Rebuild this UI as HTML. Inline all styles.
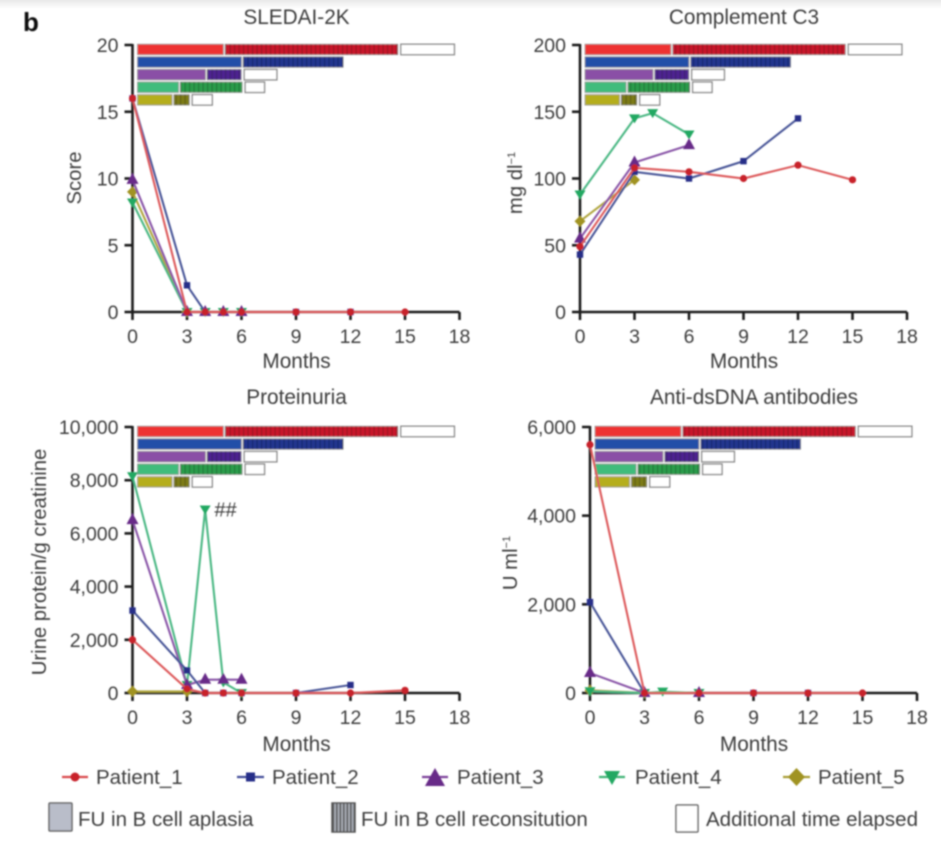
<!DOCTYPE html>
<html>
<head>
<meta charset="utf-8">
<title>Patient outcomes</title>
<style>
html,body{margin:0;padding:0;background:#fff;}
svg{display:block;}
text{font-family:"Liberation Sans",sans-serif;fill:#3c3c3c;}
</style>
</head>
<body>
<svg id="fig" xmlns="http://www.w3.org/2000/svg" width="941" height="843" viewBox="0 0 941 843">
  <defs>
    <linearGradient id="topBand" x1="0" y1="0" x2="0" y2="1">
      <stop offset="0" stop-color="#e9e9e9"/>
      <stop offset="1" stop-color="#ffffff"/>
    </linearGradient>
    <pattern id="stripes" width="4.5" height="4" patternUnits="userSpaceOnUse">
      <rect x="0" y="0" width="1.2" height="4" fill="#000" fill-opacity="0.22"/>
    </pattern>
    <pattern id="legendStripes" width="3.5" height="4" patternUnits="userSpaceOnUse">
      <rect x="0" y="0" width="1.6" height="4" fill="#555"/>
    </pattern>
    <filter id="soft" x="-2%" y="-2%" width="104%" height="104%"><feGaussianBlur stdDeviation="0.7"/></filter>
  </defs>
  <rect x="0" y="0" width="941" height="843" fill="#fff"/>
  <rect x="0" y="0" width="941" height="9" fill="url(#topBand)"/>
  <g id="root" filter="url(#soft)">
    <text x="23" y="31" font-size="26" font-weight="bold" style="fill:#111">b</text>

    <g font-size="20.5">
      <g>
        <line x1="62" y1="777" x2="88" y2="777" stroke="#d9474c" stroke-width="2.2"/>
        <circle cx="75" cy="777" r="4.5" fill="#c8202c"/>
        <text x="96" y="784">Patient_1</text>
      </g>
      <g>
        <line x1="237" y1="777" x2="264" y2="777" stroke="#3f4c98" stroke-width="2.2"/>
        <rect x="246" y="772.5" width="9" height="9" fill="#252f88"/>
        <text x="272" y="784">Patient_2</text>
      </g>
      <g>
        <line x1="422" y1="777" x2="448" y2="777" stroke="#7a3f9a" stroke-width="2.2"/>
        <polygon points="435,768 445,786 425,786" fill="#682a88"/>
        <text x="457" y="784">Patient_3</text>
      </g>
      <g>
        <line x1="599" y1="777" x2="625" y2="777" stroke="#3cb273" stroke-width="2.2"/>
        <polygon points="604,771 620,771 612,785" fill="#22a862"/>
        <text x="635" y="784">Patient_4</text>
      </g>
      <g>
        <line x1="783" y1="777" x2="810" y2="777" stroke="#a89c30" stroke-width="2.2"/>
        <polygon points="796.5,768 805,777 796.5,786 788,777" fill="#a09322"/>
        <text x="818" y="784">Patient_5</text>
      </g>
      <g>
        <rect x="49" y="803" width="23" height="28" rx="1" fill="#b9bdc9" stroke="#666" stroke-width="1.5"/>
        <text x="78" y="826">FU in B cell aplasia</text>
      </g>
      <g>
        <rect x="332" y="803" width="23" height="29" fill="#a9adb6" stroke="#555" stroke-width="1.5"/>
        <rect x="332" y="803" width="23" height="29" fill="url(#legendStripes)"/>
        <text x="361" y="826">FU in B cell reconsitution</text>
      </g>
      <g>
        <rect x="676" y="805" width="22" height="27" rx="1" fill="#fff" stroke="#666" stroke-width="1.5"/>
        <text x="706" y="826">Additional time elapsed</text>
      </g>
    </g>
  </g>
</svg>
<script>
// Shared categories and follow-up bar durations, in months
const xTicks = [0, 3, 6, 9, 12, 15, 18];
const patients = ['Patient_1', 'Patient_2', 'Patient_3', 'Patient_4', 'Patient_5'];
const aplasiaMonths = [4.73, 5.72, 3.74, 2.26, 1.9];
const reconMonths = [9.5, 5.5, 1.87, 3.4, 0.85];
const elapsedMonths = [2.95, 0, 1.8, 1.07, 1.1];

// SLEDAI-2K
const sledaiTicks = [0, 5, 10, 15, 20];
const sledaiMonths1 = [0, 3, 4, 5, 6, 9, 12, 15];
const sledaiValues1 = [16, 0, 0, 0, 0, 0, 0, 0];
const sledaiMonths2 = [0, 3, 4, 5, 6, 9, 12];
const sledaiValues2 = [16, 2, 0, 0, 0, 0, 0];
const sledaiMonths3 = [0, 3, 4, 5, 6];
const sledaiValues3 = [9.9, 0, 0, 0, 0];
const sledaiMonths4 = [0, 3, 4, 5, 6];
const sledaiValues4 = [8.2, 0, 0, 0, 0];
const sledaiMonths5 = [0, 3];
const sledaiValues5 = [9, 0];

// Complement C3
const c3Ticks = [0, 50, 100, 150, 200];
const c3Months1 = [0, 3, 6, 9, 12, 15];
const c3Values1 = [49, 108, 105, 100, 110, 99];
const c3Months2 = [0, 3, 6, 9, 12];
const c3Values2 = [43, 105, 100, 113, 145];
const c3Months3 = [0, 3, 6];
const c3Values3 = [55, 112, 125];
const c3Months4 = [0, 3, 4, 6];
const c3Values4 = [88, 145, 149, 133];
const c3Months5 = [0, 3];
const c3Values5 = [68, 99];

// Proteinuria
const protTicks = [0, 2000, 4000, 6000, 8000, 10000];
const protMonths1 = [0, 3, 4, 5, 6, 9, 12, 15];
const protValues1 = [2000, 150, 0, 0, 0, 0, 0, 100];
const protMonths2 = [0, 3, 4, 5, 6, 9, 12];
const protValues2 = [3100, 850, 0, 0, 0, 0, 300];
const protMonths3 = [0, 3, 4, 5, 6];
const protValues3 = [6500, 300, 500, 500, 500];
const protMonths4 = [0, 3, 4, 5, 6];
const protValues4 = [8150, 300, 6900, 400, 0];
const protMonths5 = [0, 3];
const protValues5 = [60, 60];

// Anti-dsDNA antibodies
const dnaTicks = [0, 2000, 4000, 6000];
const dnaMonths1 = [0, 3, 6, 9, 12, 15];
const dnaValues1 = [5600, 0, 0, 0, 0, 0];
const dnaMonths2 = [0, 3, 6, 9, 12];
const dnaValues2 = [2050, 0, 0, 0, 0];
const dnaMonths3 = [0, 3, 6];
const dnaValues3 = [450, 0, 0];
const dnaMonths4 = [0, 3, 4, 6];
const dnaValues4 = [40, 0, 30, 0];
const dnaMonths5 = [0, 3];
const dnaValues5 = [60, 0];

const NS = 'http://www.w3.org/2000/svg';
const root = document.getElementById('root');
const lineColors = ['#dd5a5c', '#4a5698', '#8a56a8', '#4cb884', '#b0a640'];
const markColors = ['#c8202c', '#252f88', '#682a88', '#22a862', '#a09322'];
const aplasiaColors = ['#ee3333', '#2450a8', '#8a4fa6', '#3fbc7c', '#b5ae1e'];
const reconColors = ['#c8142c', '#20358f', '#4d2390', '#2a9c4c', '#7d7c16'];

function make(tag, attrs, parent, text) {
  const el = document.createElementNS(NS, tag);
  for (const k in attrs) el.setAttribute(k, attrs[k]);
  if (text !== undefined) el.textContent = text;
  parent.appendChild(el);
  return el;
}

function formatTick(v) {
  return v.toLocaleString('en-US');
}

function drawMarker(parent, index, x, y) {
  const c = markColors[index];
  if (index === 0) return make('circle', {cx: x, cy: y, r: 3.6, fill: c}, parent);
  if (index === 1) return make('rect', {x: x - 3.2, y: y - 3.2, width: 6.4, height: 6.4, fill: c}, parent);
  if (index === 2) return make('polygon', {points: (x) + ',' + (y - 7) + ' ' + (x + 6) + ',' + (y + 4) + ' ' + (x - 6) + ',' + (y + 4), fill: c}, parent);
  if (index === 3) return make('polygon', {points: (x - 5.5) + ',' + (y - 4) + ' ' + (x + 5.5) + ',' + (y - 4) + ' ' + x + ',' + (y + 5), fill: c}, parent);
  return make('polygon', {points: x + ',' + (y - 5.5) + ' ' + (x + 5.5) + ',' + y + ' ' + x + ',' + (y + 5.5) + ' ' + (x - 5.5) + ',' + y, fill: c}, parent);
}

function drawPanel(cfg) {
  const xScale = m => cfg.left + m * (327 / 18);
  const yScale = v => cfg.bottom - (v / cfg.yMax) * (cfg.bottom - cfg.top);
  const panel = make('g', {}, root);
  
  

  const title = make('text', {x: cfg.left + 164, y: cfg.titleY, 'text-anchor': 'middle', 'font-size': 20.8}, panel, cfg.title);
  
  

  const xTitle = make('text', {x: cfg.left + 164, y: cfg.monthsY, 'text-anchor': 'middle', 'font-size': 20.8}, panel, 'Months');
  
  

  const yTitle = make('text', {transform: 'translate(' + cfg.yTitleX + ',' + cfg.yTitleY + ') rotate(-90)', 'text-anchor': 'middle', 'font-size': 20.3}, panel, cfg.yLabel);
  
  
  if (cfg.yLabelSup) {
    make('tspan', {dy: -7, 'font-size': 11}, yTitle, cfg.yLabelSup);
  }

  const axes = make('g', {stroke: '#1c1c1c', 'stroke-width': 2.6, fill: 'none'}, panel);
  
  
  make('line', {x1: cfg.left, y1: cfg.top - 1, x2: cfg.left, y2: cfg.bottom + 1}, axes);
  make('line', {x1: cfg.left - 1, y1: cfg.bottom, x2: xScale(18), y2: cfg.bottom}, axes);

  cfg.yTicks.forEach(t => {
    const y = yScale(t);
    make('line', {x1: cfg.left - 8, y1: y, x2: cfg.left, y2: y}, axes);
    const lab = make('text', {x: cfg.left - 14, y: y + 7, 'text-anchor': 'end', 'font-size': 19.5}, panel, formatTick(t));
    
    
  });
  xTicks.forEach(t => {
    const x = xScale(t);
    make('line', {x1: x, y1: cfg.bottom, x2: x, y2: cfg.bottom + 8}, axes);
    const lab = make('text', {x: x, y: cfg.bottom + 31, 'text-anchor': 'middle', 'font-size': 19.5}, panel, String(t));
    
    
  });

  // Follow-up bars
  const barH = 10.5;
  const gapRecon = 1.8;
  const gapElapsed = 3;
  const startX = cfg.left + 5;
  const pxPerMonth = 327 / 18;
  patients.forEach((p, i) => {
    const y = cfg.top - 0.8 + i * 12.6;
    const w1 = aplasiaMonths[i] * pxPerMonth;
    const w2 = reconMonths[i] * pxPerMonth;
    const w3 = elapsedMonths[i] * pxPerMonth;
    const r1 = make('rect', {x: startX, y: y, width: w1, height: barH, fill: aplasiaColors[i], stroke: '#9a9a9a', 'stroke-width': 0.8}, panel);
    
    
    const r2 = make('rect', {x: startX + w1 + gapRecon, y: y, width: w2, height: barH, fill: reconColors[i], stroke: '#9a9a9a', 'stroke-width': 0.8}, panel);
    
    
    make('rect', {x: startX + w1 + gapRecon, y: y, width: w2, height: barH, fill: 'url(#stripes)'}, panel);
    if (w3 > 0) {
      const r3 = make('rect', {x: startX + w1 + w2 + gapRecon + gapElapsed, y: y, width: w3, height: barH, fill: '#fff', stroke: '#8c8c8c', 'stroke-width': 1.4}, panel);
      
      
    }
  });

  // Series, Patient_5 first so Patient_1 is on top
  for (let i = 4; i >= 0; i--) {
    const months = cfg.months[i];
    const values = cfg.values[i];
    const g = make('g', {}, panel);
    
    
    const pts = months.map((m, j) => xScale(m) + ',' + yScale(values[j])).join(' ');
    make('polyline', {points: pts, fill: 'none', stroke: lineColors[i], 'stroke-width': 2.1}, g);
    months.forEach((m, j) => {
      const mark = drawMarker(g, i, xScale(m), yScale(values[j]));
      
      
    });
  }

  if (cfg.note) {
    const i = cfg.note.series;
    const j = cfg.note.point;
    const note = make('text', {x: xScale(cfg.months[i][j]) + 9, y: yScale(cfg.values[i][j]) + 7, 'font-size': 20, 'font-style': 'italic'}, panel, cfg.note.text);
    
    
  }
}

drawPanel({
  name: 'sledai', title: 'SLEDAI-2K', left: 132.5, top: 45, bottom: 312, yMax: 20,
  titleY: 24, monthsY: 368,
  yTicks: sledaiTicks, yLabel: 'Score', yTitleX: 81, yTitleY: 178,
  months: [sledaiMonths1, sledaiMonths2, sledaiMonths3, sledaiMonths4, sledaiMonths5],
  values: [sledaiValues1, sledaiValues2, sledaiValues3, sledaiValues4, sledaiValues5]
});
drawPanel({
  name: 'complement-c3', title: 'Complement C3', left: 580, top: 45, bottom: 312, yMax: 200,
  titleY: 24, monthsY: 368,
  yTicks: c3Ticks, yLabel: 'mg dl', yLabelSup: '\u22121', yTitleX: 522, yTitleY: 183,
  months: [c3Months1, c3Months2, c3Months3, c3Months4, c3Months5],
  values: [c3Values1, c3Values2, c3Values3, c3Values4, c3Values5]
});
drawPanel({
  name: 'proteinuria', title: 'Proteinuria', left: 132.5, top: 427, bottom: 693, yMax: 10000,
  titleY: 404, monthsY: 751,
  yTicks: protTicks, yLabel: 'Urine protein/g creatinine', yTitleX: 46, yTitleY: 562,
  months: [protMonths1, protMonths2, protMonths3, protMonths4, protMonths5],
  values: [protValues1, protValues2, protValues3, protValues4, protValues5],
  note: {series: 3, point: 2, text: '##'}
});
drawPanel({
  name: 'anti-dsdna', title: 'Anti-dsDNA antibodies', left: 590, top: 427, bottom: 693, yMax: 6000,
  titleY: 404, monthsY: 751,
  yTicks: dnaTicks, yLabel: 'U ml', yLabelSup: '\u22121', yTitleX: 517, yTitleY: 563,
  months: [dnaMonths1, dnaMonths2, dnaMonths3, dnaMonths4, dnaMonths5],
  values: [dnaValues1, dnaValues2, dnaValues3, dnaValues4, dnaValues5]
});
</script>
</body>
</html>
